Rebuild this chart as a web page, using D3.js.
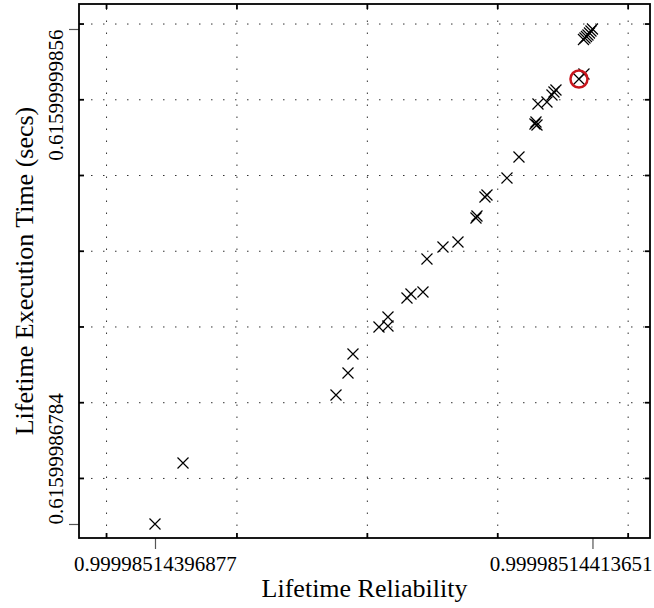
<!DOCTYPE html>
<html>
<head>
<meta charset="utf-8">
<script src="https://cdn.jsdelivr.net/npm/d3@7/dist/d3.min.js"></script>
<style>
  body { margin: 0; background: #fff; }
  text { font-family: "Liberation Serif", "Times New Roman", serif; }
</style>
</head>
<body>
<div id="chart"></div>
<script>
// points (reliability, execution time)
var reliability = [
  0.99998514396877, 0.99998514397951, 0.99998514403817, 0.99998514404277,
  0.99998514404468, 0.99998514405465, 0.99998514405810, 0.99998514405810,
  0.99998514406539, 0.99998514406692, 0.99998514407152, 0.99998514407305,
  0.99998514407919, 0.99998514408494, 0.99998514409184, 0.99998514409222,
  0.99998514409529, 0.99998514409606, 0.99998514410373, 0.99998514410833,
  0.99998514411446, 0.99998514411485, 0.99998514411523, 0.99998514411561,
  0.99998514411906, 0.99998514412098, 0.99998514412175, 0.99998514412251,
  0.99998514413133, 0.99998514413325, 0.99998514413306, 0.99998514413363,
  0.99998514413421, 0.99998514413478, 0.99998514413536, 0.99998514413593,
  0.99998514413651
];
var execTime = [
  0.61599986784, 0.61599988395, 0.61599990190, 0.61599990771,
  0.61599991273, 0.61599991986, 0.61599992012, 0.61599992250,
  0.61599992752, 0.61599992857, 0.61599992910, 0.61599993782,
  0.61599994098, 0.61599994230, 0.61599994864, 0.61599994917,
  0.61599995419, 0.61599995472, 0.61599995920, 0.61599996475,
  0.61599997346, 0.61599997399, 0.61599997320, 0.61599997875,
  0.61599997927, 0.61599998112, 0.61599998191, 0.61599998244,
  0.61599998535, 0.61599998667, 0.61599999578, 0.61599999617,
  0.61599999657, 0.61599999697, 0.61599999749, 0.61599999802,
  0.61599999856
];
// the circled one
var highlightIndex = 28;

// grid positions
var xGrid = [0.99998514395, 0.999985144, 0.99998514405, 0.9999851441, 0.99998514415];
var yGrid = [0.61599988, 0.6159999, 0.61599992, 0.61599994, 0.61599996, 0.61599998, 0.616];

// labelled ticks (min / max of data)
var xTickValues = [0.99998514396877, 0.99998514413651];
var xTickLabels = ["0.99998514396877", "0.99998514413651"];
var yTickValues = [0.61599986784, 0.61599999856];
var yTickLabels = ["0.61599986784", "0.61599999856"];

var xDomain = [0.99998514393963, 0.99998514415857];
var yDomain = [0.61599986414, 0.61600000516];

var width = 654, height = 608;
// note: "top" is taken by window.top, so m* names
var mLeft = 79, mRight = 650, mTop = 4, mBottom = 538;

var x = d3.scaleLinear().domain(xDomain).range([mLeft, mRight]);
var y = d3.scaleLinear().domain(yDomain).range([mBottom, mTop]);

var svg = d3.select("#chart").append("svg")
  .attr("width", width)
  .attr("height", height);

svg.append("rect").attr("width", width).attr("height", height).attr("fill", "#fff");

// dotted grid
var gx = svg.append("g")
  .attr("transform", "translate(0," + mBottom + ")")
  .call(d3.axisBottom(x).tickValues(xGrid).tickSize(-(mBottom - mTop)).tickFormat(""));
var gy = svg.append("g")
  .attr("transform", "translate(" + mLeft + ",0)")
  .call(d3.axisLeft(y).tickValues(yGrid).tickSize(-(mRight - mLeft)).tickFormat(""));
[gx, gy].forEach(function (g) {
  g.select(".domain").remove();
  g.selectAll(".tick line")
    .attr("stroke", "#333")
    .attr("stroke-width", 1)
    .attr("stroke-dasharray", "1.5,10.5");
});

// small inward ticks on all four sides
function inward(axis, tr, vals) {
  var g = svg.append("g").attr("transform", tr)
    .call(axis.tickValues(vals).tickSize(-5).tickFormat(""));
  g.select(".domain").remove();
  g.selectAll(".tick line").attr("stroke", "#000").attr("stroke-width", 1.8);
}
inward(d3.axisBottom(x), "translate(0," + mBottom + ")", xGrid);
inward(d3.axisTop(x), "translate(0," + mTop + ")", xGrid);
inward(d3.axisLeft(y), "translate(" + mLeft + ",0)", yGrid);
inward(d3.axisRight(y), "translate(" + mRight + ",0)", yGrid);

// labelled ticks, pointing out
var ax = svg.append("g")
  .attr("transform", "translate(0," + mBottom + ")")
  .call(d3.axisBottom(x).tickValues(xTickValues).tickSize(11)
    .tickFormat(function (d, i) { return xTickLabels[i]; }));
ax.select(".domain").remove();
ax.selectAll(".tick line").attr("stroke", "#555").attr("stroke-width", 1.2);
ax.selectAll(".tick text")
  .attr("y", 33).attr("dy", 0)
  .attr("fill", "#000")
  .style("font-family", "'Liberation Serif', 'Times New Roman', serif")
  .style("font-size", "21px");
// last label is pushed in so it ends at the page edge
ax.selectAll(".tick text").filter(function (d, i) { return i == 1; })
  .attr("text-anchor", "end")
  .attr("x", 652 - x(xTickValues[1]));

var ay = svg.append("g")
  .attr("transform", "translate(" + mLeft + ",0)")
  .call(d3.axisLeft(y).tickValues(yTickValues).tickSize(10)
    .tickFormat(function (d, i) { return yTickLabels[i]; }));
ay.select(".domain").remove();
ay.selectAll(".tick line").attr("stroke", "#555").attr("stroke-width", 1.2);
ay.selectAll(".tick text")
  .attr("x", 0).attr("dy", 0)
  .attr("transform", "translate(-16,0) rotate(-90)")
  .attr("text-anchor", function (d, i) { return i == 0 ? "start" : "end"; })
  .attr("fill", "#000")
  .style("font-family", "'Liberation Serif', 'Times New Roman', serif")
  .style("font-size", "21px");

// frame
svg.append("rect")
  .attr("x", mLeft).attr("y", mTop)
  .attr("width", mRight - mLeft).attr("height", mBottom - mTop)
  .attr("fill", "none")
  .attr("stroke", "#000")
  .attr("stroke-width", 1.8);

// crosses
var pts = reliability.map(function (r, i) { return { r: r, t: execTime[i] }; });
svg.append("g").selectAll("path")
  .data(pts)
  .enter()
  .append("path")
  .attr("transform", function (d) { return "translate(" + x(d.r) + "," + y(d.t) + ")"; })
  .attr("d", "M-5.5,-5.5L5.5,5.5M-5.5,5.5L5.5,-5.5")
  .attr("stroke", "#000")
  .attr("stroke-width", 1.2)
  .attr("fill", "none");

svg.append("circle")
  .attr("cx", x(reliability[highlightIndex]))
  .attr("cy", y(execTime[highlightIndex]))
  .attr("r", 8.5)
  .attr("fill", "none")
  .attr("stroke", "#c8161d")
  .attr("stroke-width", 2.5);

// axis titles
svg.append("text")
  .attr("x", (mLeft + mRight) / 2)
  .attr("y", 597)
  .attr("text-anchor", "middle")
  .style("font-size", "26px")
  .text("Lifetime Reliability");

svg.append("text")
  .attr("transform", "translate(33," + (mTop + mBottom) / 2 + ") rotate(-90)")
  .attr("text-anchor", "middle")
  .style("font-size", "26px")
  .text("Lifetime Execution Time (secs)");
</script>
</body>
</html>
